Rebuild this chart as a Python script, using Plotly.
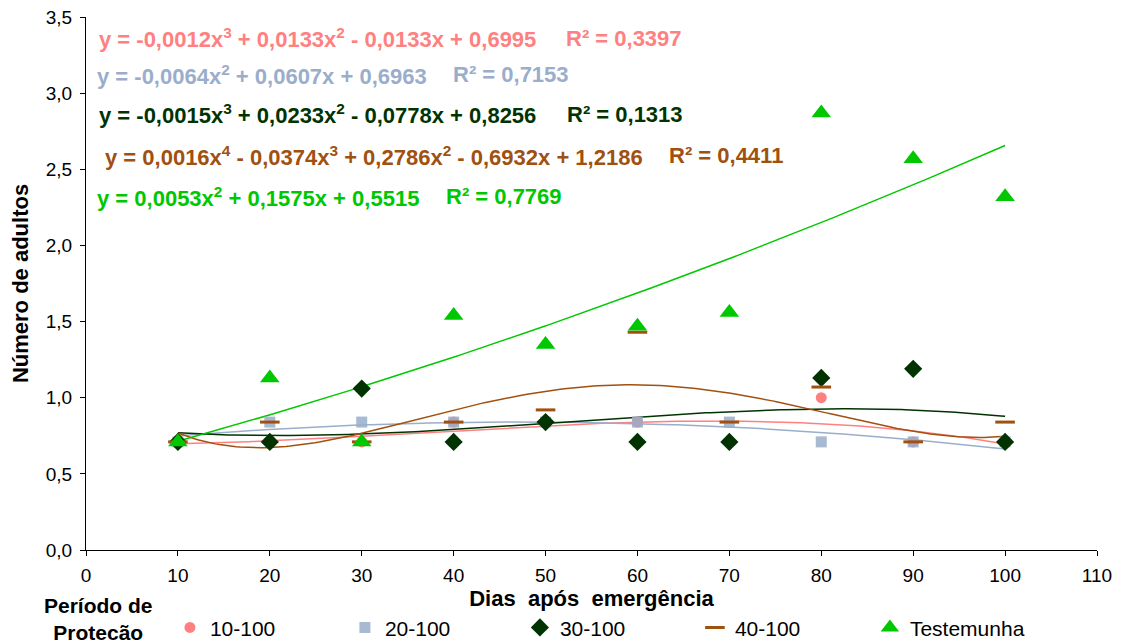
import numpy as np
import plotly.graph_objects as go

# ---- data ----
dias = [10, 20, 30, 40, 50, 60, 70, 80, 90, 100]
s_10_100 = [0.71, 0.71, 0.71, 0.84, 0.84, 0.84, 0.71, 1.00, 0.71, 0.71]
s_20_100 = [0.71, 0.84, 0.84, 0.84, 0.84, 0.84, 0.84, 0.71, 0.71, 0.71]
s_30_100 = [0.71, 0.71, 1.06, 0.71, 0.84, 0.71, 0.71, 1.13, 1.19, 0.71]
s_40_100 = [0.71, 0.84, 0.71, 0.84, 0.92, 1.43, 0.84, 1.07, 0.71, 0.84]
s_test = [0.71, 1.13, 0.71, 1.54, 1.35, 1.47, 1.56, 2.87, 2.57, 2.32]

# trendline coefficients (highest power first), x = period index 1..10
c_10_100 = [-0.0012, 0.0133, -0.0133, 0.6995]
c_20_100 = [-0.0064, 0.0607, 0.6963]
c_30_100 = [-0.0015, 0.0233, -0.0778, 0.8256]
c_40_100 = [0.0016, -0.0374, 0.2786, -0.6932, 1.2186]
c_test = [0.0053, 0.1575, 0.5515]

eq_10_100 = "y = -0,0012x<sup>3</sup> + 0,0133x<sup>2</sup> - 0,0133x + 0,6995"
eq_20_100 = "y = -0,0064x<sup>2</sup> + 0,0607x + 0,6963"
eq_30_100 = "y = -0,0015x<sup>3</sup> + 0,0233x<sup>2</sup> - 0,0778x + 0,8256"
eq_40_100 = "y = 0,0016x<sup>4</sup> - 0,0374x<sup>3</sup> + 0,2786x<sup>2</sup> - 0,6932x + 1,2186"
eq_test = "y = 0,0053x<sup>2</sup> + 0,1575x + 0,5515"
r2_labels = ["R² = 0,3397", "R² = 0,7153", "R² = 0,1313", "R² = 0,4411", "R² = 0,7769"]

names = ["10-100", "20-100", "30-100", "40-100", "Testemunha"]

C_RED = "#FF8080"
C_BLUE = "#9AAECB"
C_DKG = "#003300"
C_BRN = "#A0500F"
C_GRN = "#00C800"

FONT = "Liberation Sans, Arial, sans-serif"

fig = go.Figure()

# trendlines (drawn first so markers sit on top)
k = np.linspace(1, 10, 200)
for coefs, col in [(c_10_100, C_RED), (c_20_100, C_BLUE), (c_30_100, C_DKG),
                   (c_40_100, C_BRN), (c_test, C_GRN)]:
    fig.add_trace(go.Scatter(x=k * 10, y=np.polyval(coefs, k), mode="lines",
                             line=dict(color=col, width=1.5), showlegend=False,
                             hoverinfo="skip"))

series = [
    (s_10_100, names[0], dict(symbol="circle", size=11, color=C_RED), 1.0),
    (s_20_100, names[1], dict(symbol="square", size=11, color=C_BLUE), 0.85),
    (s_30_100, names[2], dict(symbol="diamond", size=14, color=C_DKG), 1.0),
    (s_40_100, names[3], dict(symbol="line-ew", size=14, color=C_BRN,
                              line=dict(color=C_BRN, width=3)), 1.0),
    (s_test, names[4], dict(symbol="triangle-up", size=17, color=C_GRN), 1.0),
]
for vals, nm, mk, op in series:
    fig.add_trace(go.Scatter(x=dias, y=vals, mode="markers", name=nm,
                             marker=mk, opacity=op))

# equation labels
eqs = [eq_10_100, eq_20_100, eq_30_100, eq_40_100, eq_test]
cols = [C_RED, C_BLUE, C_DKG, C_BRN, C_GRN]
eq_x = [1.2, 1.0, 1.2, 1.85, 1.0]
r2_x = [52.0, 39.7, 52.1, 63.2, 39.0]
eq_y = [3.36, 3.12, 2.86, 2.59, 2.32]
for e, r, c, ex, rx, yy in zip(eqs, r2_labels, cols, eq_x, r2_x, eq_y):
    fig.add_annotation(x=ex, y=yy, xref="x", yref="y", text="<b>" + e + "</b>",
                       showarrow=False, xanchor="left", yanchor="middle",
                       font=dict(family=FONT, size=22, color=c))
    fig.add_annotation(x=rx, y=yy, xref="x", yref="y", text="<b>" + r + "</b>",
                       showarrow=False, xanchor="left", yanchor="middle",
                       font=dict(family=FONT, size=22, color=c))

fig.add_annotation(x=0.012, y=-0.129, xref="paper", yref="paper",
                   text="<b>Período de<br>Protecão</b>", showarrow=False,
                   xanchor="center", yanchor="middle", align="center",
                   font=dict(family=FONT, size=21, color="black"))

# page body has an 8px margin; margins compensate so the plot sits where the reference has it
fig.update_layout(
    width=1127, height=643,
    margin=dict(l=78, r=38, t=9, b=101, autoexpand=False),
    paper_bgcolor="white", plot_bgcolor="white",
    separators=", ",
    showlegend=True,
    legend=dict(orientation="h", x=0.083, y=-0.146, xanchor="left", yanchor="middle",
                entrywidth=130, entrywidthmode="pixels",
                font=dict(family=FONT, size=21, color="black"),
                bgcolor="rgba(0,0,0,0)", itemwidth=30),
    xaxis=dict(range=[0, 110], dtick=10, tick0=0, showline=True, linecolor="black",
               linewidth=1, ticks="outside", ticklen=5, tickcolor="black",
               showgrid=False, zeroline=False, automargin=False,
               ticklabelstandoff=3, ticklabeloverflow="allow",
               tickfont=dict(family=FONT, size=19, color="black"),
               title=dict(text="<b>Dias  após  emergência</b>", standoff=3,
                          font=dict(family=FONT, size=22, color="black"))),
    yaxis=dict(range=[0, 3.5], dtick=0.5, tick0=0, tickformat=".1f", showline=True,
               linecolor="black", linewidth=1, ticks="outside", ticklen=5,
               tickcolor="black", showgrid=False, zeroline=False, automargin=False,
               ticklabelstandoff=4, ticklabeloverflow="allow",
               tickfont=dict(family=FONT, size=19, color="black"),
               title=dict(text="<b>Número de adultos</b>", standoff=14,
                          font=dict(family=FONT, size=22, color="black"))),
)

fig.write_html("out.html")
